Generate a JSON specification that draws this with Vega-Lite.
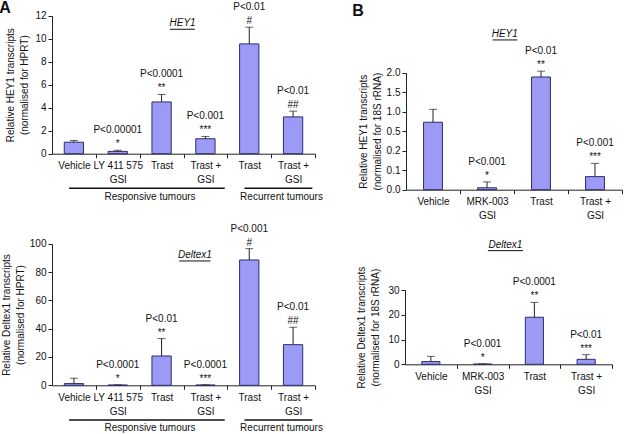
{
  "$schema": "https://vega.github.io/schema/vega-lite/v6.json",
  "width": 630,
  "height": 434,
  "autosize": {"type": "none"},
  "padding": 0,
  "background": "white",
  "config": {
    "font": "Liberation Sans",
    "view": {"stroke": null},
    "axis": {
      "labelFont": "Liberation Sans", "labelFontSize": 10, "labelColor": "#111",
      "titleFont": "Liberation Sans", "titleFontSize": 10, "titleFontWeight": "normal", "titleColor": "#111",
      "domainColor": "#222", "tickColor": "#222", "tickSize": 4, "grid": false, "labelPadding": 2
    },
    "text": {"font": "Liberation Sans", "fontSize": 10, "color": "#111"}
  },
  "datasets": {
    "a1": [
      {"cat": "Vehicle", "value": 1.0, "hi": 1.15, "note": ""},
      {"cat": "LY 411 575|GSI", "value": 0.2, "hi": 0.3, "note": "P<0.00001|*"},
      {"cat": "Trast", "value": 4.5, "hi": 5.15, "note": "P<0.0001|**"},
      {"cat": "Trast +|GSI", "value": 1.3, "hi": 1.5, "note": "P<0.001|***"},
      {"cat": "Trast|", "value": 9.55, "hi": 11.0, "note": "P<0.01|#"},
      {"cat": "Trast + |GSI", "value": 3.2, "hi": 3.7, "note": "P<0.01|##"}
    ],
    "a2": [
      {"cat": "Vehicle", "value": 1.2, "hi": 5.0, "note": ""},
      {"cat": "LY 411 575|GSI", "value": 0.2, "hi": 0.3, "note": "P<0.0001|*"},
      {"cat": "Trast", "value": 20.7, "hi": 33.0, "note": "P<0.01|**"},
      {"cat": "Trast +|GSI", "value": 0.2, "hi": 0.3, "note": "P<0.0001|***"},
      {"cat": "Trast|", "value": 88.5, "hi": 96.5, "note": "P<0.001|#"},
      {"cat": "Trast + |GSI", "value": 28.7, "hi": 41.0, "note": "P<0.01|##"}
    ],
    "b1": [
      {"cat": "Vehicle", "value": 0.73, "hi": 1.06, "note": ""},
      {"cat": "MRK-003|GSI", "value": 0.01, "hi": 0.04, "note": "P<0.001|*"},
      {"cat": "Trast", "value": 1.89, "hi": 2.04, "note": "P<0.01|**"},
      {"cat": "Trast +|GSI", "value": 0.067, "hi": 0.135, "note": "P<0.001|***"}
    ],
    "b2": [
      {"cat": "Vehicle", "value": 1.1, "hi": 3.2, "note": ""},
      {"cat": "MRK-003|GSI", "value": 0.1, "hi": 0.15, "note": "P<0.001|*"},
      {"cat": "Trast", "value": 19.0, "hi": 25.0, "note": "P<0.0001|**"},
      {"cat": "Trast +|GSI", "value": 2.0, "hi": 3.9, "note": "P<0.01|***"}
    ],
    "groups": [
      {"group": "Responsive tumours", "start": "Vehicle", "end": "Trast +|GSI", "mid": "Trast"},
      {"group": "Recurrent tumours", "start": "Trast|", "end": "Trast + |GSI", "mid": "Trast + |GSI"}
    ]
  },
  "layer": [
    {
      "data": {"name": "a1"},
      "encoding": {
        "x": {
          "field": "cat", "type": "nominal", "sort": null,
          "scale": {"domain": ["Vehicle", "LY 411 575|GSI", "Trast", "Trast +|GSI", "Trast|", "Trast + |GSI"], "range": [52, 315], "paddingInner": 0.56, "paddingOuter": 0.28},
          "axis": {"orient": "bottom", "offset": -280.3, "title": null, "labelAngle": 0, "labelOverlap": false, "labelExpr": "split(datum.value, '|')", "labelLineHeight": 14, "tickOffset": 21.92, "labelOffset": -21.92, "labelPadding": 3}
        }
      },
      "layer": [
        {
          "mark": {"type": "bar", "fill": "#9b9bf5", "stroke": "#2d2d6b", "strokeWidth": 1},
          "encoding": {
            "y": {"field": "value", "type": "quantitative",
              "scale": {"domain": [0, 12], "range": [153.7, 15.7]},
              "axis": {"orient": "left", "offset": -52, "values": [0, 2, 4, 6, 8, 10, 12], "title": ["Relative HEY1 transcripts", "(normalised for HPRT)"], "titlePadding": 5, "titleLineHeight": 14}}
          }
        },
        {
          "mark": {"type": "rule", "color": "#222", "strokeWidth": 1},
          "encoding": {"y": {"field": "value", "type": "quantitative"}, "y2": {"field": "hi"}}
        },
        {
          "mark": {"type": "tick", "orient": "horizontal", "size": 8, "thickness": 1, "color": "#222"},
          "encoding": {"y": {"field": "hi", "type": "quantitative"}}
        },
        {
          "mark": {"type": "text", "lineBreak": "|", "baseline": "alphabetic", "dy": -17, "lineHeight": 14},
          "encoding": {"y": {"field": "hi", "type": "quantitative"}, "text": {"field": "note"}}
        },
        {
          "data": {"name": "groups"},
          "mark": {"type": "rule", "color": "#111", "strokeWidth": 1.5},
          "encoding": {
            "x": {"field": "start", "type": "nominal", "bandPosition": 0.25},
            "x2": {"field": "end", "bandPosition": 1.5},
            "y": {"datum": -3.0}
          }
        },
        {
          "data": {"name": "groups"},
          "mark": {"type": "text", "baseline": "middle"},
          "encoding": {
            "x": {"field": "mid", "type": "nominal", "bandPosition": -0.1},
            "y": {"datum": -3.75},
            "text": {"field": "group"}
          }
        },
        {
          "data": {"values": [{"t": "HEY1"}]},
          "mark": {"type": "text", "fontStyle": "italic", "baseline": "alphabetic"},
          "encoding": {
            "x": {"datum": "Trast", "bandPosition": 1.59},
            "y": {"datum": 11.1},
            "text": {"field": "t"}
          }
        },
        {
          "data": {"values": [{"t": "underline"}]},
          "mark": {"type": "rule", "color": "#111", "strokeWidth": 1},
          "encoding": {
            "x": {"datum": "Trast", "bandPosition": 0.93},
            "x2": {"datum": "Trast", "bandPosition": 2.23},
            "y": {"datum": 10.82}
          }
        },
        {
          "data": {"values": [{"t": "A"}]},
          "mark": {"type": "text", "fontWeight": "bold", "fontSize": 16, "baseline": "alphabetic"},
          "encoding": {
            "x": {"datum": "Vehicle", "bandPosition": -3.07},
            "y": {"datum": 12.23},
            "text": {"field": "t"}
          }
        }
      ]
    },
    {
      "data": {"name": "a2"},
      "encoding": {
        "x": {
          "field": "cat", "type": "nominal", "sort": null,
          "scale": {"domain": ["Vehicle", "LY 411 575|GSI", "Trast", "Trast +|GSI", "Trast|", "Trast + |GSI"], "range": [52, 315], "paddingInner": 0.56, "paddingOuter": 0.28},
          "axis": {"orient": "bottom", "offset": -48.7, "title": null, "labelAngle": 0, "labelOverlap": false, "labelExpr": "split(datum.value, '|')", "labelLineHeight": 14, "tickOffset": 21.92, "labelOffset": -21.92, "labelPadding": 3}
        }
      },
      "layer": [
        {
          "mark": {"type": "bar", "fill": "#9b9bf5", "stroke": "#2d2d6b", "strokeWidth": 1},
          "encoding": {
            "y": {"field": "value", "type": "quantitative",
              "scale": {"domain": [0, 100], "range": [385.3, 243.7]},
              "axis": {"orient": "left", "offset": -52, "values": [0, 20, 40, 60, 80, 100], "title": ["Relative Deltex1 transcripts", "(normalised for HPRT)"], "titlePadding": 3.5, "titleLineHeight": 14}}
          }
        },
        {
          "mark": {"type": "rule", "color": "#222", "strokeWidth": 1},
          "encoding": {"y": {"field": "value", "type": "quantitative"}, "y2": {"field": "hi"}}
        },
        {
          "mark": {"type": "tick", "orient": "horizontal", "size": 8, "thickness": 1, "color": "#222"},
          "encoding": {"y": {"field": "hi", "type": "quantitative"}}
        },
        {
          "mark": {"type": "text", "lineBreak": "|", "baseline": "alphabetic", "dy": -17, "lineHeight": 14},
          "encoding": {"y": {"field": "hi", "type": "quantitative"}, "text": {"field": "note"}}
        },
        {
          "data": {"name": "groups"},
          "mark": {"type": "rule", "color": "#111", "strokeWidth": 1.5},
          "encoding": {
            "x": {"field": "start", "type": "nominal", "bandPosition": 0.25},
            "x2": {"field": "end", "bandPosition": 1.5},
            "y": {"datum": -24.5}
          }
        },
        {
          "data": {"name": "groups"},
          "mark": {"type": "text", "baseline": "middle"},
          "encoding": {
            "x": {"field": "mid", "type": "nominal", "bandPosition": -0.1},
            "y": {"datum": -30.4},
            "text": {"field": "group"}
          }
        },
        {
          "data": {"values": [{"t": "Deltex1"}]},
          "mark": {"type": "text", "fontStyle": "italic", "baseline": "alphabetic"},
          "encoding": {
            "x": {"datum": "Trast", "bandPosition": 2.23},
            "y": {"datum": 89.9},
            "text": {"field": "t"}
          }
        },
        {
          "data": {"values": [{"t": "underline"}]},
          "mark": {"type": "rule", "color": "#111", "strokeWidth": 1},
          "encoding": {
            "x": {"datum": "Trast", "bandPosition": 1.41},
            "x2": {"datum": "Trast", "bandPosition": 3.04},
            "y": {"datum": 87.8}
          }
        }
      ]
    },
    {
      "data": {"name": "b1"},
      "encoding": {
        "x": {
          "field": "cat", "type": "nominal", "sort": null,
          "scale": {"domain": ["Vehicle", "MRK-003|GSI", "Trast", "Trast +|GSI"], "range": [406, 622], "paddingInner": 0.65, "paddingOuter": 0.325},
          "axis": {"orient": "bottom", "offset": -244.3, "title": null, "labelAngle": 0, "labelOverlap": false, "labelExpr": "split(datum.value, '|')", "labelLineHeight": 14, "tickOffset": 27, "labelOffset": -27, "labelPadding": 3}
        }
      },
      "layer": [
        {
          "mark": {"type": "bar", "fill": "#9b9bf5", "stroke": "#2d2d6b", "strokeWidth": 1},
          "encoding": {
            "y": {"field": "value", "type": "quantitative",
              "scale": {"type": "linear", "domain": [0, 0.2, 0.5, 2.0], "range": [189.7, 150.7, 131.2, 72.7]},
              "axis": {"orient": "left", "offset": -406, "values": [0, 0.1, 0.2, 0.5, 1.0, 1.5, 2.0], "format": ".1f", "title": ["Relative HEY1 transcripts", "(normalised for 18S rRNA)"], "titlePadding": 4, "titleLineHeight": 14}}
          }
        },
        {
          "mark": {"type": "rule", "color": "#222", "strokeWidth": 1},
          "encoding": {"y": {"field": "value", "type": "quantitative"}, "y2": {"field": "hi"}}
        },
        {
          "mark": {"type": "tick", "orient": "horizontal", "size": 8, "thickness": 1, "color": "#222"},
          "encoding": {"y": {"field": "hi", "type": "quantitative"}}
        },
        {
          "mark": {"type": "text", "lineBreak": "|", "baseline": "alphabetic", "dy": -17, "lineHeight": 14},
          "encoding": {"y": {"field": "hi", "type": "quantitative"}, "text": {"field": "note"}}
        },
        {
          "data": {"values": [{"t": "HEY1"}]},
          "mark": {"type": "text", "fontStyle": "italic", "baseline": "alphabetic"},
          "encoding": {
            "x": {"datum": "MRK-003|GSI", "bandPosition": 1.44},
            "y": {"datum": 2.915},
            "text": {"field": "t"}
          }
        },
        {
          "data": {"values": [{"t": "underline"}]},
          "mark": {"type": "rule", "color": "#111", "strokeWidth": 1},
          "encoding": {
            "x": {"datum": "MRK-003|GSI", "bandPosition": 0.8},
            "x2": {"datum": "MRK-003|GSI", "bandPosition": 2.1},
            "y": {"datum": 2.84}
          }
        },
        {
          "data": {"values": [{"t": "B"}]},
          "mark": {"type": "text", "fontWeight": "bold", "fontSize": 16, "baseline": "alphabetic"},
          "encoding": {
            "x": {"datum": "Vehicle", "bandPosition": -3.47},
            "y": {"datum": 3.45},
            "text": {"field": "t"}
          }
        }
      ]
    },
    {
      "data": {"name": "b2"},
      "encoding": {
        "x": {
          "field": "cat", "type": "nominal", "sort": null,
          "scale": {"domain": ["Vehicle", "MRK-003|GSI", "Trast", "Trast +|GSI"], "range": [405, 612], "paddingInner": 0.65, "paddingOuter": 0.325},
          "axis": {"orient": "bottom", "offset": -69.7, "title": null, "labelAngle": 0, "labelOverlap": false, "labelExpr": "split(datum.value, '|')", "labelLineHeight": 14, "tickOffset": 25.875, "labelOffset": -25.875, "labelPadding": 3}
        }
      },
      "layer": [
        {
          "mark": {"type": "bar", "fill": "#9b9bf5", "stroke": "#2d2d6b", "strokeWidth": 1},
          "encoding": {
            "y": {"field": "value", "type": "quantitative",
              "scale": {"domain": [0, 30], "range": [364.3, 290]},
              "axis": {"orient": "left", "offset": -405, "values": [0, 10, 20, 30], "title": ["Relative Deltex1 transcripts", "(normalised for 18S rRNA)"], "titlePadding": 7, "titleLineHeight": 14}}
          }
        },
        {
          "mark": {"type": "rule", "color": "#222", "strokeWidth": 1},
          "encoding": {"y": {"field": "value", "type": "quantitative"}, "y2": {"field": "hi"}}
        },
        {
          "mark": {"type": "tick", "orient": "horizontal", "size": 8, "thickness": 1, "color": "#222"},
          "encoding": {"y": {"field": "hi", "type": "quantitative"}}
        },
        {
          "mark": {"type": "text", "lineBreak": "|", "baseline": "alphabetic", "dy": -17, "lineHeight": 14},
          "encoding": {"y": {"field": "hi", "type": "quantitative"}, "text": {"field": "note"}}
        },
        {
          "data": {"values": [{"t": "Deltex1"}]},
          "mark": {"type": "text", "fontStyle": "italic", "baseline": "alphabetic"},
          "encoding": {
            "x": {"datum": "MRK-003|GSI", "bandPosition": 1.76},
            "y": {"datum": 46.95},
            "text": {"field": "t"}
          }
        },
        {
          "data": {"values": [{"t": "underline"}]},
          "mark": {"type": "rule", "color": "#111", "strokeWidth": 1},
          "encoding": {
            "x": {"datum": "MRK-003|GSI", "bandPosition": 0.79},
            "x2": {"datum": "MRK-003|GSI", "bandPosition": 2.73},
            "y": {"datum": 45.9}
          }
        }
      ]
    }
  ],
  "resolve": {
    "scale": {"x": "independent", "y": "independent"},
    "axis": {"x": "independent", "y": "independent"}
  }
}
